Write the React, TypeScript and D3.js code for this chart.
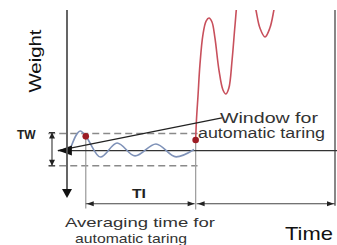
import React from 'react';
import * as d3 from 'd3';

const W = 337;
const H = 245;

// time axis (s) and weight axis (%)
const timeDomain = [0, 10];
const weightDomain = [0, 100];

const tareStart = 0.7;
const tareEnd = 4.8;
const tareWeight = 26;
const windowLow = 18;
const windowHigh = 35;
const tareStartWeight = 33.5;
const tareEndWeight = 31.6;

// settling signal inside the taring window
const settleTime = [0.1, 0.5, 0.7, 1.25, 1.87, 2.54, 3.32, 4.07, 4.74];
const settleWeight = [26, 36.3, 33.5, 22.6, 30, 23.2, 29.5, 22.7, 26.6];

// load applied after taring
const loadTime = [4.8, 4.83, 4.89, 4.96, 5.07, 5.19, 5.3, 5.41, 5.52, 5.67, 5.82, 5.93, 6.04, 6.16, 6.27, 6.38, 6.64, 6.9, 7.05, 7.2, 7.39, 7.57, 7.72, 7.87, 8.13];
const loadWeight = [31.6, 42, 55.3, 71.1, 86.8, 94.2, 95.8, 93.7, 85.3, 68.4, 57.9, 55.8, 58.9, 73.7, 92.1, 108, 126, 110.5, 100, 90.5, 85.8, 90.5, 100, 113, 126];

// window pointer line
const pointerTime = [-0.34, 5.78];
const pointerWeight = [26, 43.2];

const labels = {
  y: 'Weight',
  x: 'Time',
  tw: 'TW',
  ti: 'TI',
  window1: 'Window for',
  window2: 'automatic taring',
  avg1: 'Averaging time for',
  avg2: 'automatic taring',
};

const font = 'Liberation Sans, Arial, sans-serif';

export default function App() {
  const x = d3.scaleLinear().domain(timeDomain).range([67, 335]);
  const y = d3.scaleLinear().domain(weightDomain).range([200, 10]);

  const settle = settleTime.map((t, i) => [t, settleWeight[i]] as [number, number]);
  const load = loadTime.map((t, i) => [t, loadWeight[i]] as [number, number]);

  const settleLine = d3
    .line<[number, number]>()
    .x((d) => x(d[0]))
    .y((d) => y(d[1]))
    .curve(d3.curveMonotoneX);
  const loadLine = d3
    .line<[number, number]>()
    .x((d) => x(d[0]))
    .y((d) => y(d[1]))
    .curve(d3.curveCatmullRom.alpha(0.5));

  const axisX = x(0);
  const baseY = y(tareWeight);
  const arrowY = y(-2);
  const x1 = x(tareStart);
  const x2 = x(tareEnd);
  const xEnd = x(timeMax());
  function timeMax() {
    return timeDomain[1];
  }

  const tri = (tx: number, ty: number, dir: 'l' | 'r' | 'u' | 'd', len: number, hw: number) => {
    if (dir === 'l') return `M${tx},${ty}L${tx + len},${ty - hw}L${tx + len},${ty + hw}Z`;
    if (dir === 'r') return `M${tx},${ty}L${tx - len},${ty - hw}L${tx - len},${ty + hw}Z`;
    if (dir === 'u') return `M${tx},${ty}L${tx - hw},${ty + len}L${tx + hw},${ty + len}Z`;
    return `M${tx},${ty}L${tx - hw},${ty - len}L${tx + hw},${ty - len}Z`;
  };

  const twX = x(-0.56);
  const dashL = x(-0.7);
  const dashR = x(4.87);
  const tipX = x(pointerTime[0]);
  const tipY = y(pointerWeight[0]);

  return (
    <svg width={W} height={H} style={{ position: 'absolute', left: 0, top: 0, background: '#fff' }}>
      <defs>
        <clipPath id="plotClip">
          <rect x={0} y={y(100)} width={W} height={H} />
        </clipPath>
      </defs>
      <rect x={0} y={0} width={W} height={H} fill="#fff" />

      {/* window dashed lines */}
      <line x1={dashL} x2={dashR} y1={y(windowHigh)} y2={y(windowHigh)} stroke="#8a8a8a" strokeWidth={1.4} strokeDasharray="7,4" />
      <line x1={dashL} x2={dashR} y1={y(windowLow)} y2={y(windowLow)} stroke="#8a8a8a" strokeWidth={1.4} strokeDasharray="7,4" />

      {/* gray verticals */}
      <line x1={x1} x2={x1} y1={y(tareStartWeight)} y2={y(-4.5)} stroke="#a0a0a0" strokeWidth={1.3} />
      <line x1={x2} x2={x2} y1={y(tareEndWeight)} y2={y(-5)} stroke="#a0a0a0" strokeWidth={1.3} />
      <line x1={xEnd} x2={xEnd} y1={y(100)} y2={y(-3)} stroke="#555" strokeWidth={1.4} />

      {/* baseline */}
      <line x1={tipX} x2={W} y1={baseY} y2={baseY} stroke="#333" strokeWidth={1.3} />

      {/* settle signal */}
      <path d={settleLine(settle) || ''} fill="none" stroke="#7f92b8" strokeWidth={1.6} />

      {/* load signal */}
      <path d={loadLine(load) || ''} fill="none" stroke="#c8505c" strokeWidth={1.6} clipPath="url(#plotClip)" />

      {/* pointer line */}
      <line x1={tipX} y1={tipY} x2={x(pointerTime[1])} y2={y(pointerWeight[1])} stroke="#222" strokeWidth={1.2} />
      <path d={tri(tipX, tipY, 'l', 14, 5)} fill="#111" />

      {/* vertical axis */}
      <line x1={axisX} x2={axisX} y1={y(100)} y2={y(4)} stroke="#555" strokeWidth={1.8} />
      <path d={tri(axisX, y(1), 'd', 9, 5)} fill="#111" />

      {/* TW arrow */}
      <line x1={twX} x2={twX} y1={y(windowHigh) - 1} y2={y(windowLow)} stroke="#333" strokeWidth={1.1} />
      <path d={tri(twX, y(windowHigh) - 1, 'u', 6, 3)} fill="#222" />
      <path d={tri(twX, y(windowLow), 'd', 6, 3)} fill="#222" />
      <line x1={twX - 3} x2={twX + 3} y1={y(windowHigh) - 1} y2={y(windowHigh) - 1} stroke="#333" strokeWidth={1} />
      <line x1={twX - 3} x2={twX + 3} y1={y(windowLow)} y2={y(windowLow)} stroke="#333" strokeWidth={1} />

      {/* TI arrows */}
      <line x1={x1} x2={x2 - 1} y1={arrowY} y2={arrowY} stroke="#444" strokeWidth={1.1} />
      <path d={tri(x1 + 1, arrowY, 'l', 7, 2.5)} fill="#222" />
      <path d={tri(x2 - 1, arrowY, 'r', 7, 2.5)} fill="#222" />
      <line x1={x2 + 1} x2={xEnd} y1={arrowY} y2={arrowY} stroke="#444" strokeWidth={1.1} />
      <path d={tri(x2 + 2, arrowY, 'l', 7, 2.5)} fill="#222" />
      <path d={tri(xEnd - 1, arrowY, 'r', 7, 2.5)} fill="#222" />

      {/* dots */}
      <circle cx={x1} cy={y(tareStartWeight)} r={3.3} fill="#9c1c24" />
      <circle cx={x2} cy={y(tareEndWeight)} r={3.3} fill="#9c1c24" />

      {/* texts */}
      <text transform="translate(41,61) rotate(-90)" textAnchor="middle" fontFamily={font} fontSize={16} fill="#111" textLength={63} lengthAdjust="spacingAndGlyphs">{labels.y}</text>
      <text x={17} y={138.5} fontFamily={font} fontSize={12} fontWeight="bold" fill="#222">{labels.tw}</text>
      <text x={132} y={198} fontFamily={font} fontSize={12} fontWeight="bold" fill="#222" textLength={14} lengthAdjust="spacingAndGlyphs">{labels.ti}</text>
      <text x={220} y={123} fontFamily={font} fontSize={14} fill="#333" textLength={98} lengthAdjust="spacingAndGlyphs">{labels.window1}</text>
      <text x={198} y={138} fontFamily={font} fontSize={14} fill="#333" textLength={127} lengthAdjust="spacingAndGlyphs">{labels.window2}</text>
      <text x={65} y={227} fontFamily={font} fontSize={13} fill="#333" textLength={150} lengthAdjust="spacingAndGlyphs">{labels.avg1}</text>
      <text x={75} y={243} fontFamily={font} fontSize={13} fill="#333" textLength={112} lengthAdjust="spacingAndGlyphs">{labels.avg2}</text>
      <text x={285} y={240} fontFamily={font} fontSize={19} fill="#111" textLength={48} lengthAdjust="spacingAndGlyphs">{labels.x}</text>
    </svg>
  );
}
